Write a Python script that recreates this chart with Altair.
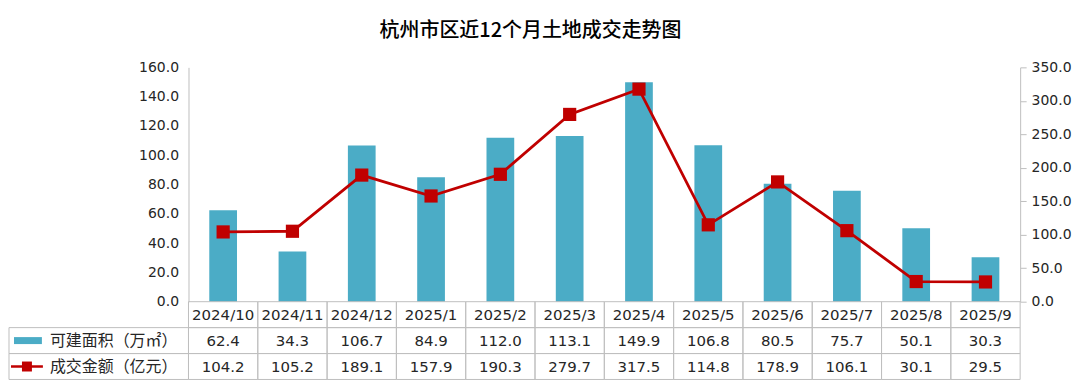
import altair as alt
import pandas as pd

# ---------------- data ----------------
months = ["2024/10", "2024/11", "2024/12", "2025/1", "2025/2", "2025/3",
          "2025/4", "2025/5", "2025/6", "2025/7", "2025/8", "2025/9"]
area = [62.4, 34.3, 106.7, 84.9, 112.0, 113.1, 149.9, 106.8, 80.5, 75.7, 50.1, 30.3]
amount = [104.2, 105.2, 189.1, 157.9, 190.3, 279.7, 317.5, 114.8, 178.9, 106.1, 30.1, 29.5]
title_text = "杭州市区近12个月土地成交走势图"
area_label = "可建面积（万㎡）"
amount_label = "成交金额（亿元）"
left_ticks = [0, 20, 40, 60, 80, 100, 120, 140, 160]
right_ticks = [0, 50, 100, 150, 200, 250, 300, 350]
row_keys = ["date", "area", "amount"]

# ---------------- style ----------------
PLOT_W, PLOT_H, TABLE_H = 834, 235, 78
BAR = "#4BACC6"
RED = "#C00000"
GRID = "#BFBFBF"
TXT = "#262626"
NUM_FONT = "DejaVu Sans"
CJK_FONT = "Noto Sans CJK SC"

df = pd.DataFrame({"month": months, "area": area, "amount": amount})

x_top = alt.X("month:N", sort=months,
              scale=alt.Scale(domain=months, paddingInner=0, paddingOuter=0), axis=None)

bars = alt.Chart(df).mark_bar(color=BAR, width=alt.RelativeBandSize(0.4)).encode(
    x=x_top,
    y=alt.Y("area:Q",
            scale=alt.Scale(domain=[0, 160], nice=False),
            axis=alt.Axis(orient="left", values=left_ticks, format=".1f", title=None,
                          grid=False, ticks=False, domainColor=GRID, labelPadding=10,
                          labelFont=NUM_FONT, labelFontSize=14, labelColor=TXT)),
)

y_right = alt.Y("amount:Q",
                scale=alt.Scale(domain=[0, 350], nice=False),
                axis=alt.Axis(orient="right", values=right_ticks, format=".1f", title=None,
                              grid=False, tickSize=6, tickColor=GRID, domainColor=GRID,
                              labelPadding=5, labelFont=NUM_FONT, labelFontSize=14,
                              labelColor=TXT))
line = alt.Chart(df).mark_line(color=RED, strokeWidth=2.8).encode(x=x_top, y=y_right)
pts = alt.Chart(df).mark_point(shape="square", filled=True, size=175, color=RED,
                               opacity=1).encode(x=x_top, y=y_right)
right_layer = alt.layer(line, pts)

title = alt.Chart(pd.DataFrame({"t": [title_text]})).mark_text(
    font=CJK_FONT, fontSize=20, fontWeight=500, color="#000000", baseline="middle",
    align="center"
).encode(text="t:N", x=alt.value(343), y=alt.value(-36.5))

top = alt.layer(bars, right_layer, title).resolve_scale(y="independent").properties(
    width=PLOT_W, height=PLOT_H)

# ---------------- table ----------------
recs = []
for m, a, v in zip(months, area, amount):
    recs.append({"month": m, "row": "date", "text": m})
    recs.append({"month": m, "row": "area", "text": f"{a:.1f}"})
    recs.append({"month": m, "row": "amount", "text": f"{v:.1f}"})
table_df = pd.DataFrame(recs)
leg_df = pd.DataFrame({"row": ["area", "amount"], "label": [area_label, amount_label]})

x_tab = alt.X("month:N", sort=months,
              scale=alt.Scale(domain=months, paddingInner=0, paddingOuter=0), axis=None)
y_tab = alt.Y("row:N", sort=row_keys,
              scale=alt.Scale(domain=row_keys, paddingInner=0, paddingOuter=0), axis=None)
y_mid = alt.Y("row:N", sort=row_keys, bandPosition=0.5,
              scale=alt.Scale(domain=row_keys, paddingInner=0, paddingOuter=0), axis=None)

cells = alt.Chart(table_df).mark_rect(fillOpacity=0, stroke=GRID, strokeWidth=1).encode(
    x=x_tab, y=y_tab)
cell_text = alt.Chart(table_df).mark_text(font=NUM_FONT, fontSize=15, color=TXT).encode(
    x=x_tab, y=y_mid, text="text:N")

leg_cells = alt.Chart(leg_df).mark_rect(fillOpacity=0, stroke=GRID, strokeWidth=1).encode(
    x=alt.value(-180), x2=alt.value(0), y=y_tab)
leg_text = alt.Chart(leg_df).mark_text(align="left", font=CJK_FONT, fontSize=16,
                                       color=TXT).encode(
    x=alt.value(-139), y=y_mid, text="label:N")
leg_bar = alt.Chart(leg_df).transform_filter(alt.datum.row == "area").mark_rule(
    color=BAR, strokeWidth=7, strokeCap="butt").encode(
    x=alt.value(-175), x2=alt.value(-147), y=y_mid)
leg_line = alt.Chart(leg_df).transform_filter(alt.datum.row == "amount").mark_rule(
    color=RED, strokeWidth=2.5).encode(
    x=alt.value(-178), x2=alt.value(-146), y=y_mid)
leg_pt = alt.Chart(leg_df).transform_filter(alt.datum.row == "amount").mark_point(
    shape="square", filled=True, size=100, color=RED, opacity=1).encode(
    x=alt.value(-162), y=y_mid)

table = alt.layer(cells, cell_text, leg_cells, leg_text, leg_bar, leg_line, leg_pt).properties(
    width=PLOT_W, height=TABLE_H)

chart = alt.vconcat(top, table, spacing=0, bounds="flush").resolve_scale(
    x="independent").properties(
    padding={"left": 0, "top": 12, "right": 0, "bottom": 0}
).configure_view(strokeWidth=0)

chart.save("out.html", embed_options={"renderer": "svg", "actions": False})
